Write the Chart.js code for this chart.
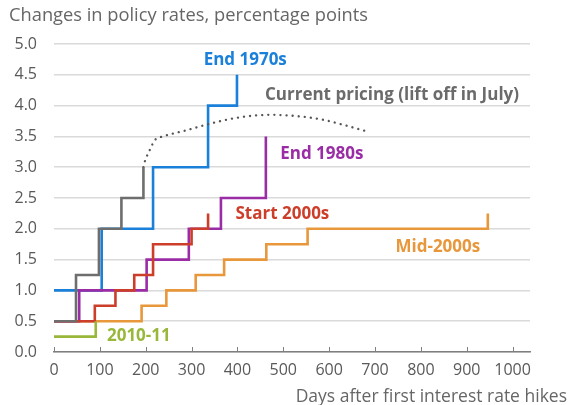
<!DOCTYPE html>
<html>
<head>
<meta charset="utf-8">
<script src="https://cdn.jsdelivr.net/npm/chart.js@4"></script>
<style>
  html, body { margin: 0; padding: 0; background: #fff; }
  #wrap { width: 571px; height: 405px; position: relative; }
</style>
</head>
<body>
<div id="wrap"><canvas id="chart"></canvas></div>
<script>
// Step series: [day of change, new level]
const currentDays   = [0, 48, 98, 147, 195];
const currentVals   = [0.5, 1.25, 2.0, 2.5, 3.0];
const pricingDays   = [195, 198, 209, 220, 238, 289, 347, 405, 471, 529, 587, 630, 678];
const pricingVals   = [3.0, 3.09, 3.28, 3.44, 3.50, 3.60, 3.72, 3.81, 3.85, 3.83, 3.77, 3.69, 3.59];
const end70sDays    = [0, 104, 216, 336, 399];
const end70sVals    = [1.0, 2.0, 3.0, 4.0, 4.5];
const end80sDays    = [0, 55, 202, 294, 364, 462];
const end80sVals    = [0.5, 1.0, 1.5, 2.0, 2.5, 3.5];
const start00sDays  = [0, 89, 134, 175, 216, 300, 336];
const start00sVals  = [0.5, 0.75, 1.0, 1.25, 1.75, 2.0, 2.25];
const mid00sDays    = [0, 191, 245, 309, 371, 463, 553, 946];
const mid00sVals    = [0.5, 0.75, 1.0, 1.25, 1.5, 1.75, 2.0, 2.25];
const y2010Days     = [0, 91];
const y2010Vals     = [0.25, 0.5];

const xTicks = [0, 100, 200, 300, 400, 500, 600, 700, 800, 900, 1000];

// Series labels placed in data space
const seriesLabels = [
  { text: 'End 1970s', day: 417, val: 4.73, color: '#1a80d9' },
  { text: 'Current pricing (lift off in July)', day: 737, val: 4.17, color: '#6b6b6b' },
  { text: 'End 1980s', day: 584, val: 3.21, color: '#9a2ca6' },
  { text: 'Start 2000s', day: 498, val: 2.24, color: '#cc3e2a' },
  { text: 'Mid-2000s', day: 837, val: 1.70, color: '#e8973b' },
  { text: '2010-11', day: 185, val: 0.26, color: '#99b83b' }
];

const pts = (xs, ys) => xs.map((x, i) => ({ x: x, y: ys[i] }));
const FONT = '"Open Sans", "Noto Sans", sans-serif';

function stepSet(xs, ys, color) {
  return {
    data: pts(xs, ys),
    borderColor: color,
    borderWidth: 2.6,
    stepped: 'before',
    pointRadius: 0,
    fill: false
  };
}

const extras = {
  id: 'extras',
  afterDraw(chart) {
    const { ctx, scales: { x, y }, chartArea } = chart;
    ctx.save();
    // tick marks pointing up from axis
    ctx.strokeStyle = '#7f7f7f';
    ctx.lineWidth = 1;
    xTicks.forEach(t => {
      const px = Math.round(x.getPixelForValue(t)) + 0.5;
      ctx.beginPath();
      ctx.moveTo(px, chartArea.bottom);
      ctx.lineTo(px, chartArea.bottom - 5);
      ctx.stroke();
    });
    // series labels
    ctx.font = 'bold 17px ' + FONT;
    ctx.textAlign = 'center';
    ctx.textBaseline = 'middle';
    seriesLabels.forEach(l => {
      ctx.fillStyle = l.color;
      ctx.fillText(l.text, x.getPixelForValue(l.day), y.getPixelForValue(l.val));
    });
    // titles
    ctx.fillStyle = '#666666';
    ctx.font = '18.3px ' + FONT;
    ctx.textAlign = 'left';
    ctx.fillText('Changes in policy rates, percentage points', 9, 16);
    ctx.font = '17.5px ' + FONT;
    ctx.textAlign = 'right';
    ctx.fillText('Days after first interest rate hikes', 567, 397);
    ctx.restore();
  }
};

new Chart(document.getElementById('chart'), {
  type: 'line',
  data: {
    datasets: [
      stepSet(currentDays, currentVals, '#6e6e6e'),
      {
        data: pts(pricingDays, pricingVals),
        borderColor: '#555555',
        borderWidth: 2.3,
        borderDash: [0.1, 6],
        borderCapStyle: 'round',
        cubicInterpolationMode: 'monotone',
        pointRadius: 0,
        fill: false
      },
      stepSet(y2010Days, y2010Vals, '#99b83b'),
      stepSet(start00sDays, start00sVals, '#cc3e2a'),
      stepSet(end80sDays, end80sVals, '#9a2ca6'),
      stepSet(end70sDays, end70sVals, '#1a80d9'),
      stepSet(mid00sDays, mid00sVals, '#e8973b')
    ]
  },
  options: {
    responsive: true,
    maintainAspectRatio: false,
    animation: false,
    layout: { padding: { top: 44, right: 41, left: 0, bottom: 0 } },
    plugins: { legend: { display: false }, tooltip: { enabled: false } },
    scales: {
      x: {
        type: 'linear',
        min: 0,
        max: 1038,
        afterBuildTicks: s => { s.ticks = xTicks.map(v => ({ value: v })); },
        afterFit: s => { s.height = 53; },
        grid: { display: false, drawTicks: false },
        border: { display: true, color: '#7f7f7f', width: 1.5 },
        ticks: {
          color: '#595959',
          font: { family: FONT, size: 16 },
          padding: 9,
          maxRotation: 0,
          autoSkip: false,
          callback: v => String(v)
        }
      },
      y: {
        min: 0,
        max: 5,
        afterFit: s => { s.width = 54; },
        grid: { color: '#dadada', lineWidth: 1.5, drawTicks: false },
        border: { display: false },
        ticks: {
          stepSize: 0.5,
          color: '#595959',
          font: { family: FONT, size: 16 },
          padding: 17,
          callback: v => v.toFixed(1)
        }
      }
    }
  },
  plugins: [extras]
});
</script>
</body>
</html>
